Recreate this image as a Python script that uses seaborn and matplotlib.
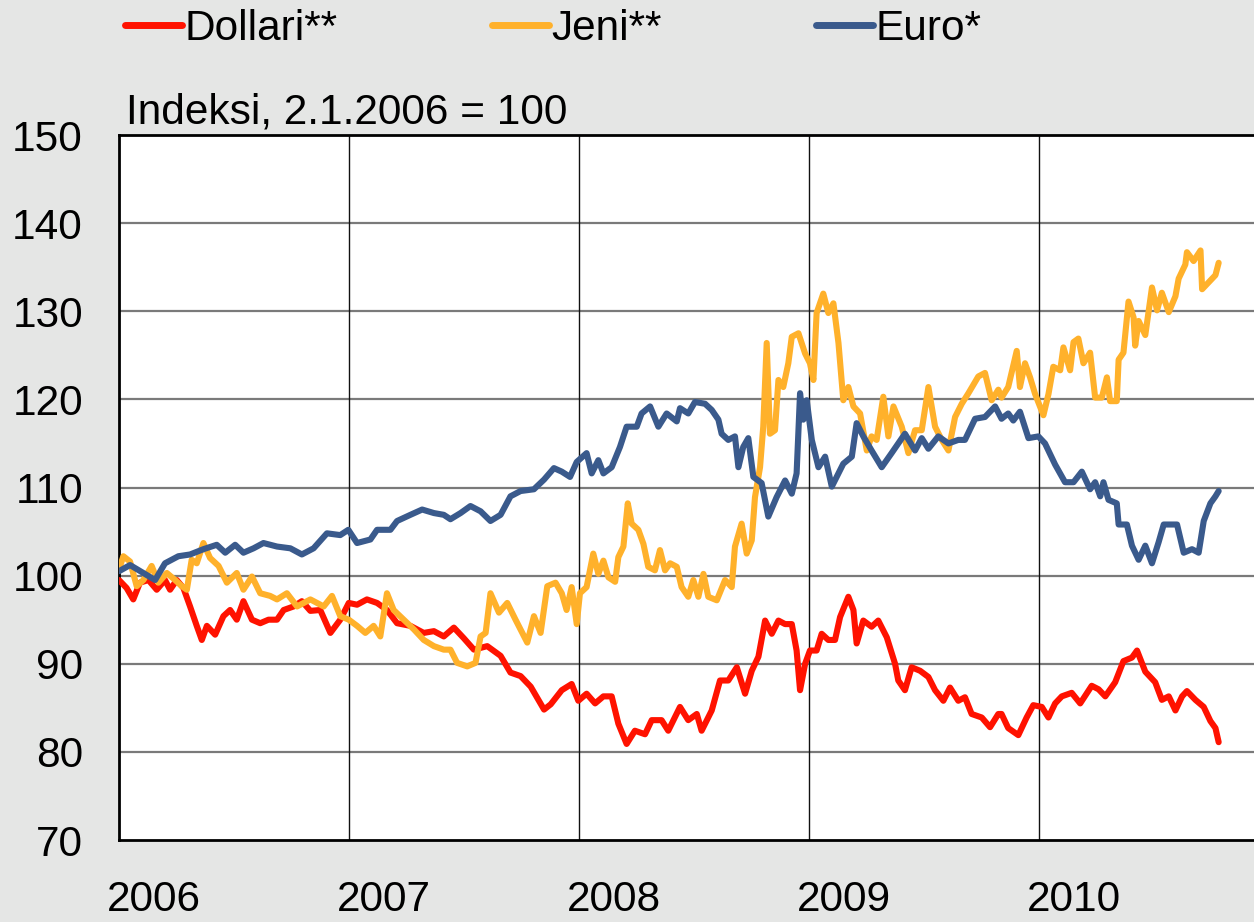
import numpy as np
import pandas as pd
import matplotlib
matplotlib.use("Agg")
import matplotlib.pyplot as plt
import seaborn as sns

# ---------------- data (decimal years, index 2.1.2006 = 100) ----------------
dollar_t = [2006.000, 2006.033, 2006.062, 2006.091, 2006.128, 2006.164, 2006.200, 2006.222, 2006.251, 2006.280,
            2006.309, 2006.338, 2006.360, 2006.382, 2006.418, 2006.454, 2006.483, 2006.512, 2006.541, 2006.578,
            2006.614, 2006.650, 2006.687, 2006.716, 2006.759, 2006.795, 2006.832, 2006.875, 2006.919, 2006.962,
            2006.999, 2007.035, 2007.078, 2007.122, 2007.165, 2007.209, 2007.267, 2007.325, 2007.369, 2007.412,
            2007.456, 2007.499, 2007.543, 2007.601, 2007.659, 2007.702, 2007.746, 2007.790, 2007.848, 2007.877,
            2007.925, 2007.968, 2007.997, 2008.033, 2008.070, 2008.106, 2008.142, 2008.171, 2008.207, 2008.243,
            2008.287, 2008.316, 2008.359, 2008.388, 2008.439, 2008.475, 2008.512, 2008.533, 2008.577, 2008.613,
            2008.649, 2008.686, 2008.722, 2008.751, 2008.780, 2008.809, 2008.838, 2008.867, 2008.896, 2008.925,
            2008.946, 2008.961, 2008.983, 2009.004, 2009.033, 2009.055, 2009.084, 2009.113, 2009.135, 2009.171,
            2009.193, 2009.207, 2009.236, 2009.272, 2009.301, 2009.338, 2009.374, 2009.388, 2009.417, 2009.446,
            2009.483, 2009.519, 2009.548, 2009.584, 2009.613, 2009.649, 2009.678, 2009.707, 2009.751, 2009.787,
            2009.823, 2009.837, 2009.866, 2009.910, 2009.946, 2009.975, 2010.012, 2010.041, 2010.070, 2010.099,
            2010.142, 2010.179, 2010.229, 2010.259, 2010.288, 2010.331, 2010.367, 2010.404, 2010.426, 2010.462,
            2010.505, 2010.534, 2010.564, 2010.593, 2010.622, 2010.643, 2010.680, 2010.716, 2010.745, 2010.767,
            2010.781]
dollar_v = [99.5, 98.6, 97.3, 99.2, 99.5, 98.4, 99.5, 98.4, 99.5, 98.6,
            96.5, 94.3, 92.7, 94.3, 93.3, 95.4, 96.1, 95.0, 97.1, 95.0,
            94.6, 95.0, 95.0, 96.1, 96.5, 97.1, 96.0, 96.1, 93.5, 95.0,
            96.9, 96.7, 97.3, 96.9, 96.1, 94.6, 94.3, 93.5, 93.7, 93.1,
            94.1, 92.9, 91.6, 92.0, 90.9, 89.0, 88.6, 87.4, 84.8, 85.4,
            87.0, 87.7, 85.8, 86.6, 85.5, 86.3, 86.3, 83.2, 80.9, 82.4,
            82.0, 83.6, 83.6, 82.4, 85.1, 83.6, 84.3, 82.4, 84.7, 88.1,
            88.1, 89.6, 86.6, 89.2, 90.8, 94.9, 93.4, 94.9, 94.5, 94.5,
            91.5, 87.0, 90.0, 91.5, 91.5, 93.4, 92.7, 92.7, 95.3, 97.6,
            96.1, 92.3, 94.9, 94.2, 94.9, 93.0, 90.0, 88.1, 87.0, 89.6,
            89.2, 88.5, 87.0, 85.8, 87.3, 85.8, 86.2, 84.3, 83.9, 82.8,
            84.3, 84.3, 82.7, 81.9, 83.9, 85.3, 85.1, 83.9, 85.5, 86.3,
            86.7, 85.5, 87.5, 87.1, 86.3, 87.9, 90.3, 90.7, 91.5, 89.1,
            87.9, 85.9, 86.3, 84.7, 86.3, 86.9, 85.9, 85.1, 83.5, 82.7,
            81.1]

yen_t = [2006.000, 2006.019, 2006.048, 2006.077, 2006.106, 2006.142, 2006.171, 2006.208, 2006.244, 2006.273,
         2006.295, 2006.316, 2006.338, 2006.367, 2006.396, 2006.433, 2006.469, 2006.512, 2006.541, 2006.578,
         2006.614, 2006.657, 2006.687, 2006.730, 2006.774, 2006.832, 2006.890, 2006.926, 2006.962, 2006.999,
         2007.035, 2007.071, 2007.107, 2007.136, 2007.165, 2007.194, 2007.238, 2007.282, 2007.325, 2007.369,
         2007.412, 2007.441, 2007.470, 2007.514, 2007.550, 2007.572, 2007.594, 2007.615, 2007.652, 2007.688,
         2007.724, 2007.775, 2007.804, 2007.833, 2007.862, 2007.898,
         2007.925, 2007.946, 2007.968, 2007.990, 2008.004, 2008.033, 2008.062, 2008.084, 2008.106, 2008.128,
         2008.157, 2008.171, 2008.193, 2008.212, 2008.229, 2008.258, 2008.280, 2008.301, 2008.330, 2008.352,
         2008.374, 2008.396, 2008.425, 2008.446, 2008.475, 2008.497, 2008.519, 2008.541, 2008.562, 2008.599,
         2008.635, 2008.664, 2008.678, 2008.707, 2008.729, 2008.751, 2008.765, 2008.787, 2008.801, 2008.816,
         2008.830, 2008.852, 2008.867, 2008.888, 2008.910, 2008.925, 2008.954, 2008.983, 2009.004, 2009.019,
         2009.033, 2009.062, 2009.084, 2009.106, 2009.128, 2009.149, 2009.171, 2009.193, 2009.222, 2009.251,
         2009.272, 2009.294, 2009.323, 2009.345, 2009.367, 2009.403, 2009.432, 2009.461, 2009.490, 2009.519,
         2009.548, 2009.577, 2009.606, 2009.635, 2009.664, 2009.693, 2009.736, 2009.765, 2009.794, 2009.823,
         2009.837, 2009.866, 2009.903, 2009.917, 2009.939, 2009.961, 2009.983, 2010.019, 2010.041, 2010.062,
         2010.092, 2010.106, 2010.135, 2010.150, 2010.171, 2010.193, 2010.222, 2010.244, 2010.273, 2010.295,
         2010.309, 2010.338, 2010.346, 2010.367, 2010.389, 2010.411, 2010.418, 2010.433, 2010.462, 2010.491,
         2010.513, 2010.534, 2010.564, 2010.593, 2010.607, 2010.636, 2010.643, 2010.672, 2010.702, 2010.709,
         2010.738, 2010.767, 2010.781]
yen_v = [100.7, 102.2, 101.6, 98.8, 99.5, 101.1, 99.2, 100.3, 99.5, 98.8,
         98.4, 101.8, 101.4, 103.7, 102.0, 101.1, 99.2, 100.3, 98.4, 99.9,
         98.0, 97.7, 97.3, 98.0, 96.5, 97.3, 96.5, 97.7, 95.4, 95.0,
         94.3, 93.5, 94.3, 93.1, 98.0, 96.1, 95.0, 93.9, 92.7, 92.0,
         91.6, 91.6, 90.1, 89.7, 90.1, 93.1, 93.5, 98.0, 95.8, 96.9,
         95.0, 92.4, 95.4, 93.5, 98.8, 99.2,
         98.0, 96.1, 98.7, 94.5, 98.0, 98.7, 102.5, 100.2, 101.7, 99.8,
         99.3, 102.1, 103.3, 108.2, 105.9, 105.2, 103.6, 101.0, 100.6, 102.9,
         100.6, 101.4, 101.0, 98.7, 97.6, 99.5, 97.6, 100.2, 97.6, 97.2,
         99.5, 98.7, 103.3, 105.9, 102.5, 104.0, 108.9, 112.3, 116.9, 126.4,
         116.1, 116.5, 122.2, 121.4, 124.1, 127.1, 127.5, 125.2, 124.1, 122.2,
         129.8, 132.0, 129.8, 130.9, 126.4, 119.9, 121.4, 119.2, 118.4, 114.2,
         115.8, 115.4, 120.3, 115.8, 119.2, 116.9, 113.9, 116.5, 116.5, 121.4,
         116.9, 115.4, 114.2, 118.0, 119.5, 120.7, 122.6, 123.0, 119.9, 121.1,
         120.2, 121.4, 125.5, 121.4, 124.1, 122.5, 120.6, 118.2, 120.6, 123.7,
         123.3, 125.9, 123.3, 126.5, 126.9, 124.1, 125.3, 120.2, 120.2, 122.5,
         119.8, 119.8, 124.5, 125.3, 131.1, 129.3, 126.1, 128.9, 127.3, 132.7,
         130.1, 132.1, 129.9, 131.7, 133.7, 135.3, 136.7, 135.7, 136.9, 132.5,
         133.3, 134.1, 135.5]

euro_t = [2006.000, 2006.048, 2006.106, 2006.157, 2006.200, 2006.258, 2006.309, 2006.367, 2006.425, 2006.462,
          2006.505, 2006.541, 2006.585, 2006.628, 2006.687, 2006.745, 2006.795, 2006.846, 2006.904, 2006.962,
          2006.997, 2007.035, 2007.093, 2007.122, 2007.180, 2007.209, 2007.267, 2007.318, 2007.369, 2007.412,
          2007.441, 2007.485, 2007.528, 2007.572, 2007.615, 2007.659, 2007.702, 2007.746, 2007.804, 2007.848,
          2007.891,
          2007.925, 2007.961, 2007.990, 2008.033, 2008.055, 2008.084, 2008.106, 2008.142, 2008.178, 2008.207,
          2008.251, 2008.272, 2008.309, 2008.345, 2008.381, 2008.425, 2008.439, 2008.475, 2008.504, 2008.548,
          2008.577, 2008.606, 2008.620, 2008.649, 2008.678, 2008.693, 2008.714, 2008.736, 2008.758, 2008.794,
          2008.823, 2008.859, 2008.896, 2008.925, 2008.946, 2008.961, 2008.975, 2008.990, 2009.012, 2009.041,
          2009.070, 2009.099, 2009.128, 2009.149, 2009.186, 2009.207, 2009.236, 2009.272, 2009.316, 2009.359,
          2009.417, 2009.461, 2009.490, 2009.519, 2009.562, 2009.606, 2009.649, 2009.678, 2009.722, 2009.765,
          2009.809,
          2009.837, 2009.866, 2009.888, 2009.917, 2009.954, 2009.997, 2010.026, 2010.070, 2010.113, 2010.150,
          2010.186, 2010.222, 2010.244, 2010.266, 2010.280, 2010.302, 2010.338, 2010.346, 2010.382, 2010.404,
          2010.433, 2010.462, 2010.491, 2010.520, 2010.542, 2010.578, 2010.600, 2010.629, 2010.665, 2010.694,
          2010.716, 2010.745, 2010.767, 2010.781]
euro_v = [100.5, 101.2, 100.3, 99.5, 101.4, 102.2, 102.4, 103.0, 103.5, 102.6,
          103.5, 102.6, 103.1, 103.7, 103.3, 103.1, 102.4, 103.1, 104.8, 104.6,
          105.2, 103.7, 104.1, 105.2, 105.2, 106.2, 106.9, 107.5, 107.1, 106.9,
          106.4, 107.1, 107.9, 107.3, 106.2, 106.9, 109.0, 109.6, 109.8, 110.9,
          112.2,
          111.8, 111.2, 112.9, 113.9, 111.6, 113.1, 111.6, 112.3, 114.6, 116.9,
          116.9, 118.4, 119.2, 116.9, 118.4, 117.5, 119.0, 118.4, 119.7, 119.5,
          118.8, 117.7, 116.1, 115.4, 115.8, 112.3, 114.6, 115.6, 111.2, 110.5,
          106.7, 108.9, 110.8, 109.3, 111.6, 120.7, 117.7, 119.9, 115.4, 112.3,
          113.5, 110.1, 111.6, 112.7, 113.5, 117.3, 115.8, 114.2, 112.3, 113.9,
          116.1, 114.2, 115.6, 114.4, 115.8, 115.0, 115.4, 115.4, 117.8, 118.0,
          119.2,
          117.8, 118.4, 117.6, 118.6, 115.6, 115.8, 115.0, 112.6, 110.6, 110.6,
          111.8, 109.8, 110.6, 109.0, 110.6, 108.6, 108.2, 105.8, 105.8, 103.4,
          101.8, 103.4, 101.4, 103.8, 105.8, 105.8, 105.8, 102.6, 103.0, 102.6,
          106.2, 108.2, 109.0, 109.6]

series_names = ["Dollari**", "Jeni**", "Euro*"]
series_colors = ["#ff1200", "#ffb12b", "#3a5a8c"]
year_ticks = [2006, 2007, 2008, 2009, 2010]
year_labels = ["2006", "2007", "2008", "2009", "2010"]
y_ticks = [70, 80, 90, 100, 110, 120, 130, 140, 150]
title_text = "Indeksi, 2.1.2006 = 100"

# ---------------- build long table ----------------
frames = []
for name, t, v in zip(series_names, [dollar_t, yen_t, euro_t], [dollar_v, yen_v, euro_v]):
    frames.append(pd.DataFrame({"t": t, "v": v, "series": name}))
df = pd.concat(frames, ignore_index=True)

sns.set_theme(style="white")
plt.rcParams["font.family"] = ["Liberation Sans", "DejaVu Sans"]
plt.rcParams["text.color"] = "black"
plt.rcParams["xtick.color"] = "black"
plt.rcParams["ytick.color"] = "black"

bg = "#e5e6e5"
fig = plt.figure(figsize=(12.54, 9.22), dpi=100, facecolor=bg)
W, H = 1254, 922
ax = fig.add_axes([119 / W, (H - 840) / H, (W - 119) / W + 0.01, (840 - 135) / H])
ax.set_facecolor("white")

sns.lineplot(data=df, x="t", y="v", hue="series", hue_order=series_names,
             palette=dict(zip(series_names, series_colors)),
             estimator=None, sort=False, legend=False, ax=ax, zorder=3)
series_lines = list(ax.get_lines())
for ln in series_lines:
    ln.set_linewidth(4.4)
    ln.set_solid_capstyle("round")
    ln.set_solid_joinstyle("round")

ax.set_xlim(2006.0, 2006.0 + 1145 / 229.5)
ax.set_ylim(70, 150)
ax.set_xlabel("")
ax.set_ylabel("")

ax.set_yticks(y_ticks)
ax.set_yticklabels([str(y) for y in y_ticks], fontsize=30.5)
ax.set_xticks(year_ticks)
ax.set_xticklabels([""] * len(year_ticks))
ax.set_xticks([y + 0.153 for y in year_ticks], minor=True)
ax.set_xticklabels(year_labels, minor=True, fontsize=30.5)
ax.tick_params(axis="both", which="both", length=0, colors="black")
ax.tick_params(axis="y", pad=26)
ax.tick_params(axis="x", which="minor", pad=29)
for y in y_ticks[1:-1]:
    ax.axhline(y, color="#7a7a7a", lw=1.6, zorder=1)
for x in year_ticks[1:]:
    ax.axvline(x, color="#111111", lw=1.0, zorder=1)

for side in ["top", "left", "bottom"]:
    ax.spines[side].set_visible(True)
    ax.spines[side].set_color("black")
    ax.spines[side].set_linewidth(2.0)
ax.spines["right"].set_visible(False)

ax.text(0.006, 1.004, title_text, transform=ax.transAxes, fontsize=30.5,
        ha="left", va="bottom", color="black")

leg = fig.legend(series_lines, series_names, loc="upper left", bbox_to_anchor=(125 / W, 1.0 - 9 / H),
                 ncol=3, frameon=False, fontsize=30.5, handlelength=1.35, handletextpad=0.05,
                 columnspacing=3.65, borderaxespad=0.0, borderpad=0.0)
for lh in leg.get_lines():
    lh.set_linewidth(5)
for txt in leg.get_texts():
    txt.set_color("black")

fig.savefig("out.png", dpi=100, facecolor=bg)
